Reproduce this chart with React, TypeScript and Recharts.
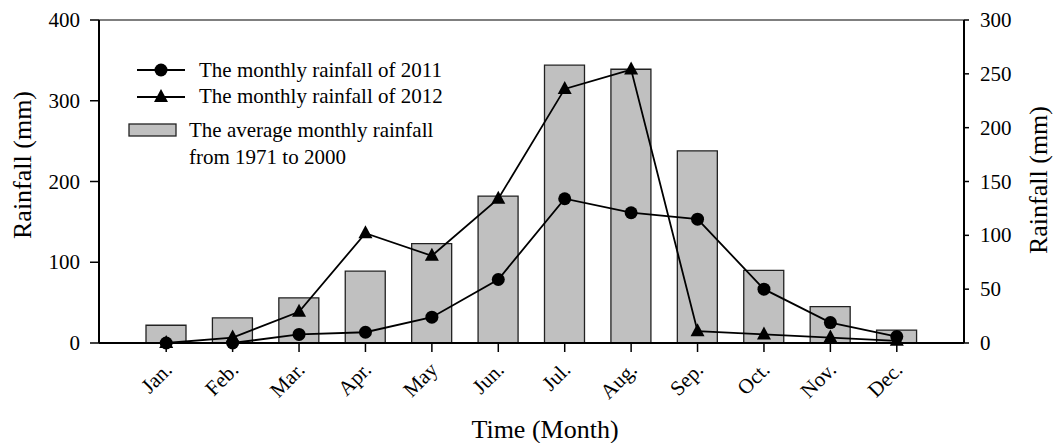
import { ComposedChart, Bar, Line, XAxis, YAxis, ReferenceLine, Legend, Label } from "recharts"

const months = ["Jan.", "Feb.", "Mar.", "Apr.", "May", "Jun.", "Jul.", "Aug.", "Sep.", "Oct.", "Nov.", "Dec."]
// 1971–2000 monthly mean (left axis)
const averageRainfall = [22, 31, 56, 89, 123, 182, 344, 339, 238, 90, 45, 16]
// yearly totals per month (right axis)
const rainfall2011 = [0, 0, 8, 10, 24, 59, 134, 121, 115, 50, 19, 6]
const rainfall2012 = [0, 5, 29, 102, 81, 134, 236, 254, 11, 8, 5, 2]
const leftTicks = [0, 100, 200, 300, 400]
const rightTicks = [0, 50, 100, 150, 200, 250, 300]

const data = months.map((month, i) => ({
  month,
  average: averageRainfall[i],
  y2011: rainfall2011[i],
  y2012: rainfall2012[i],
}))

const FONT = "'Liberation Serif', 'Times New Roman', serif"

interface DotProps {
  cx?: number
  cy?: number
  index?: number
}

function CircleDot({ cx, cy }: DotProps) {
  if (cx == null || cy == null) return null
  return <circle cx={cx} cy={cy} r={6.5} fill="#000" />
}

function TriangleDot({ cx, cy }: DotProps) {
  if (cx == null || cy == null) return null
  return <polygon points={`${cx},${cy - 8} ${cx - 7},${cy + 5} ${cx + 7},${cy + 5}`} fill="#000" />
}

interface TickProps {
  x?: number
  y?: number
  payload?: { value: string | number }
}

function MonthTick({ x = 0, y = 0, payload }: TickProps) {
  return (
    <g transform={`translate(${x + 7},${y + 17}) rotate(-45)`}>
      <text x={0} y={0} textAnchor="end" fontSize={21} fontFamily={FONT} fill="#000">
        {payload?.value}
      </text>
    </g>
  )
}

function LeftTick({ x = 0, y = 0, payload }: TickProps) {
  return (
    <text x={x} y={y + 7} textAnchor="end" fontSize={21} fontFamily={FONT} fill="#000">
      {payload?.value}
    </text>
  )
}

function RightTick({ x = 0, y = 0, payload }: TickProps) {
  return (
    <text x={x} y={y + 7} textAnchor="start" fontSize={21} fontFamily={FONT} fill="#000">
      {payload?.value}
    </text>
  )
}

function RainLegend() {
  const text = { fontSize: 21, fontFamily: FONT, fill: "#000" }
  return (
    <svg width={380} height={125} style={{ display: "block" }}>
      <line x1={17} y1={20} x2={65} y2={20} stroke="#000" strokeWidth={1.8} />
      <circle cx={41} cy={20} r={6.5} fill="#000" />
      <text x={79} y={27} {...text}>The monthly rainfall of 2011</text>

      <line x1={17} y1={47} x2={65} y2={47} stroke="#000" strokeWidth={1.8} />
      <polygon points="41,39 34,52 48,52" fill="#000" />
      <text x={79} y={53} {...text}>The monthly rainfall of 2012</text>

      <rect x={9} y={74} width={47} height={12} fill="#c0c0c0" stroke="#222" strokeWidth={1.3} />
      <text x={69} y={87} {...text}>The average monthly rainfall</text>
      <text x={69} y={114} {...text}>from 1971 to 2000</text>
    </svg>
  )
}

export default function App() {
  return (
    <div
      style={{
        position: "absolute",
        left: 0,
        top: 0,
        width: 1054,
        height: 443,
        background: "#fff",
        fontFamily: FONT,
      }}
    >
      <ComposedChart
        width={1054}
        height={443}
        data={data}
        margin={{ top: 20, right: 0, bottom: 0, left: 0 }}
        barCategoryGap={0}
      >
        <XAxis
          dataKey="month"
          interval={0}
          padding={{ left: 34, right: 34 }}
          height={100}
          tickSize={9}
          axisLine={{ stroke: "#000", strokeWidth: 2 }}
          tickLine={{ stroke: "#000", strokeWidth: 1.5 }}
          tick={<MonthTick />}
          label={
            <Label
              content={() => (
                <text x={545} y={438} textAnchor="middle" fontSize={26} fontFamily={FONT} fill="#000">
                  Time (Month)
                </text>
              )}
            />
          }
        />
        <YAxis
          yAxisId="left"
          domain={[0, 400]}
          ticks={leftTicks}
          width={99}
          tickSize={9}
          tickMargin={10}
          tick={<LeftTick />}
          axisLine={{ stroke: "#000", strokeWidth: 2 }}
          tickLine={{ stroke: "#000", strokeWidth: 1.5 }}
          label={
            <Label
              content={() => (
                <text
                  x={31}
                  y={165}
                  transform="rotate(-90 31 165)"
                  textAnchor="middle"
                  fontSize={26}
                  fontFamily={FONT}
                  fill="#000"
                >
                  Rainfall (mm)
                </text>
              )}
            />
          }
        />
        <YAxis
          yAxisId="right"
          orientation="right"
          domain={[0, 300]}
          ticks={rightTicks}
          width={90}
          tickSize={5}
          tickMargin={11}
          tick={<RightTick />}
          axisLine={{ stroke: "#000", strokeWidth: 2 }}
          tickLine={{ stroke: "#000", strokeWidth: 1.5 }}
          label={
            <Label
              content={() => (
                <text
                  x={1047}
                  y={180}
                  transform="rotate(-90 1047 180)"
                  textAnchor="middle"
                  fontSize={26}
                  fontFamily={FONT}
                  fill="#000"
                >
                  Rainfall (mm)
                </text>
              )}
            />
          }
        />
        <ReferenceLine yAxisId="left" y={400} stroke="#555" strokeWidth={1.5} />
        <Legend
          layout="vertical"
          align="center"
          verticalAlign="middle"
          content={<RainLegend />}
          wrapperStyle={{ left: 120, top: 50, width: 380, height: 125 }}
        />
        <Bar
          yAxisId="left"
          dataKey="average"
          barSize={40}
          fill="#c0c0c0"
          stroke="#222"
          strokeWidth={1.3}
          isAnimationActive={false}
        />
        <Line
          yAxisId="right"
          dataKey="y2011"
          type="linear"
          stroke="#000"
          strokeWidth={1.8}
          dot={(p: DotProps) => <CircleDot {...p} key={`c-${p.index}`} />}
          activeDot={false}
          isAnimationActive={false}
        />
        <Line
          yAxisId="right"
          dataKey="y2012"
          type="linear"
          stroke="#000"
          strokeWidth={1.8}
          dot={(p: DotProps) => <TriangleDot {...p} key={`t-${p.index}`} />}
          activeDot={false}
          isAnimationActive={false}
        />
      </ComposedChart>
    </div>
  )
}
